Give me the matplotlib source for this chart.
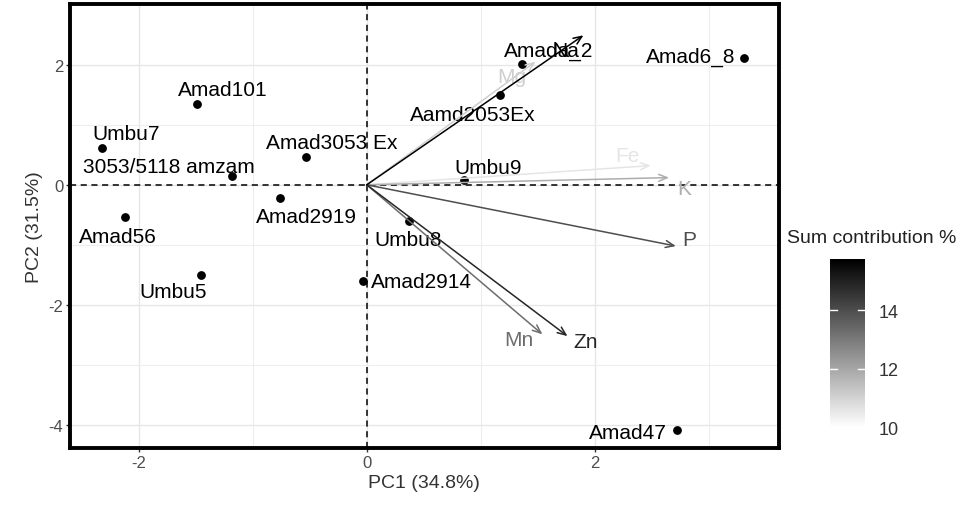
import matplotlib
matplotlib.use("Agg")
import matplotlib.pyplot as plt
from matplotlib.colors import LinearSegmentedColormap, Normalize
import numpy as np

plt.rcParams['font.family'] = ['Liberation Sans', 'DejaVu Sans']
plt.rcParams['axes.unicode_minus'] = False

# Individuals (PCA scores)
ind_names = ["Amad6_8", "Amada_2", "Aamd2053Ex", "Amad101", "Umbu7", "3053/5118 amzam",
             "Amad3053 Ex", "Amad2919", "Amad56", "Umbu5", "Amad2914", "Umbu8", "Umbu9", "Amad47"]
ind_x = [3.31, 1.36, 1.17, -1.49, -2.32, -1.18, -0.53, -0.76, -2.12, -1.45, -0.03, 0.37, 0.85, 2.72]
ind_y = [2.11, 2.01, 1.50, 1.35, 0.62, 0.15, 0.47, -0.22, -0.54, -1.50, -1.60, -0.60, 0.08, -4.08]
# label offsets (pixels)
ind_label_dx = [-54, 27, -27, 26, 24, -63, 26, 26, -7, -28, 58, -1, 24, -49]
ind_label_dy = [2, 14, -20, 14, 14, 9, 14, -18, -19, -17, -1, -19, 13, -3]

# Variables (loadings)
var_names = ["Na", "Mg", "Fe", "K", "P", "Zn", "Mn"]
var_x = [1.90, 1.48, 2.49, 2.65, 2.71, 1.76, 1.54]
var_y = [2.49, 2.05, 0.32, 0.12, -1.02, -2.52, -2.49]
var_contrib = [15.76, 11.1, 10.6, 11.85, 14.0, 14.9, 13.3]
var_label_dx = [-18, -24, -23, 15, 13, 18, -24]
var_label_dy = [-15, -15, 10, -11, 7, -5, -5]

cmap = LinearSegmentedColormap.from_list("wb", ["#ffffff", "#000000"])
norm = Normalize(vmin=10, vmax=15.76)

fig = plt.figure(figsize=(9.6, 5.06), dpi=100)
ax = fig.add_axes([0.073, 0.113, 0.738, 0.877])

ax.set_xlim(-2.6, 3.61)
ax.set_ylim(-4.38, 3.01)

ax.set_xticks([-2, 0, 2])
ax.set_yticks([-4, -2, 0, 2])
ax.set_xticks([-1, 1, 3], minor=True)
ax.set_yticks([-3, -1, 1], minor=True)
ax.grid(True, which='major', color='#e6e6e6', linewidth=1.0)
ax.grid(True, which='minor', color='#eeeeee', linewidth=0.8)
ax.set_axisbelow(True)
ax.tick_params(which='minor', length=0)
ax.tick_params(which='major', length=3, width=1, color='#333333', labelsize=12, labelcolor='#4d4d4d', pad=2)

for sp in ax.spines.values():
    sp.set_linewidth(2.8)
    sp.set_color('black')

ax.axhline(0, color='black', linestyle=(0, (4, 3)), linewidth=1.1, zorder=1)
ax.axvline(0, color='black', linestyle=(0, (4, 3)), linewidth=1.1, zorder=1)

# points
ax.scatter(ind_x, ind_y, s=28, color='black', zorder=4)
for n, x, y, dx, dy in zip(ind_names, ind_x, ind_y, ind_label_dx, ind_label_dy):
    ax.annotate(n, (x, y), xytext=(dx, dy), textcoords='offset pixels',
                ha='center', va='center', fontsize=15, color='black', zorder=5)

# variable arrows (drawn on top of the points)
order = np.argsort(var_contrib)
for i in order:
    c = cmap(norm(var_contrib[i]))
    ax.annotate("", xy=(var_x[i], var_y[i]), xytext=(0, 0),
                arrowprops=dict(arrowstyle='->,head_length=0.6,head_width=0.25', color=c,
                                lw=1.1, shrinkA=0, shrinkB=0), zorder=6)
    ax.annotate(var_names[i], (var_x[i], var_y[i]), xytext=(var_label_dx[i], var_label_dy[i]),
                textcoords='offset pixels', ha='center', va='center', fontsize=15, color=c, zorder=6)

ax.set_xlabel("PC1 (34.8%)", fontsize=14, color='#333333', labelpad=3)
ax.set_ylabel("PC2 (31.5%)", fontsize=14, color='#333333', labelpad=4)

# colorbar
cax = fig.add_axes([0.865, 0.154, 0.036, 0.332])
grad = np.linspace(10, 15.76, 256).reshape(-1, 1)
cax.imshow(grad, aspect='auto', cmap=cmap, norm=norm, origin='lower',
           extent=[0, 1, 10, 15.76])
cax.set_xlim(0, 1)
cax.set_ylim(10, 15.76)
cax.set_xticks([])
cax.set_yticks([10, 12, 14])
cax.yaxis.tick_right()
cax.tick_params(axis='y', length=0, labelsize=13, labelcolor='#333333', pad=10)
for sp in cax.spines.values():
    sp.set_visible(False)
for v in [12, 14]:
    cax.plot([0, 0.2], [v, v], color='white', lw=1)
    cax.plot([0.8, 1], [v, v], color='white', lw=1)
fig.text(0.82, 0.528, "Sum contribution %", fontsize=14, color='#222222', ha='left', va='center')

fig.savefig("out.png", dpi=100)
